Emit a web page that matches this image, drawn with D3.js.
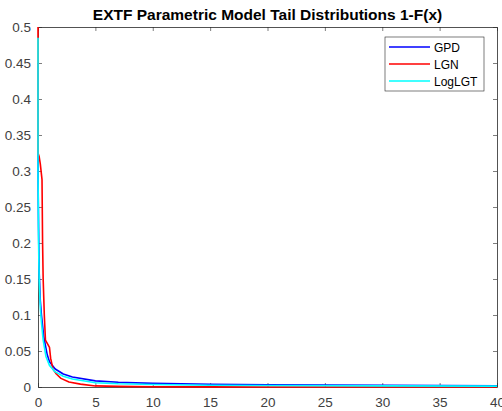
<!DOCTYPE html>
<html>
<head>
<meta charset="utf-8">
<script src="https://cdn.jsdelivr.net/npm/d3@7"></script>
<style>
  body { margin: 0; background: #fff; }
  svg { display: block; font-family: "Liberation Sans", Arial, sans-serif; }
</style>
</head>
<body>
<svg id="chart" width="502" height="411"></svg>
<script>
// series
const gpdX = [0, 0, 0.05, 0.1, 0.2, 0.3, 0.5, 0.8, 1.0, 1.5, 2.2, 3, 5, 7, 10, 15, 20, 30, 40]
const gpdY = [0.45, 0.3, 0.22, 0.16, 0.12, 0.1, 0.07, 0.045, 0.035, 0.025, 0.018, 0.014, 0.0085, 0.0065, 0.005, 0.0038, 0.003, 0.0022, 0.0018]

const lgnX = [0, 0, 0.1, 0.2, 0.35, 0.4, 0.45, 0.55, 0.65, 1.0, 1.1, 1.3, 1.6, 2.0, 2.7, 3.7, 5, 7, 10, 15, 20, 30, 40]
const lgnY = [0.5, 0.325, 0.32, 0.31, 0.288, 0.2, 0.15, 0.1, 0.065, 0.055, 0.04, 0.025, 0.018, 0.012, 0.007, 0.004, 0.0015, 0.0008, 0.0004, 0.0002, 0.0001, 0.00005, 0.00002]

const lgtX = [0, 0, 0.05, 0.1, 0.2, 0.3, 0.45, 0.7, 1.0, 1.5, 2.2, 3, 5, 7, 10, 15, 20, 30, 40]
const lgtY = [0.485, 0.3, 0.2, 0.15, 0.11, 0.09, 0.065, 0.042, 0.03, 0.021, 0.015, 0.011, 0.006, 0.0045, 0.0035, 0.0025, 0.002, 0.0015, 0.0012]

const seriesNames = ['GPD', 'LGN', 'LogLGT']
const seriesColors = ['#0000ff', '#ff0000', '#00ffff']
const xTicks = [0, 5, 10, 15, 20, 25, 30, 35, 40]
const yTicks = [0, 0.05, 0.1, 0.15, 0.2, 0.25, 0.3, 0.35, 0.4, 0.45, 0.5]
const title = 'EXTF Parametric Model Tail Distributions 1-F(x)'

const W = 502, H = 411
const margin = { top: 27, right: 5, bottom: 24, left: 38 }

const svg = d3.select('#chart')

const x = d3.scaleLinear().domain([0, 40]).range([margin.left, W - margin.right])
const y = d3.scaleLinear().domain([0, 0.5]).range([H - margin.bottom, margin.top])

const axisColor = '#262626'
const labelColor = '#404040'

// clip so lines stay inside the box (a little slack so the x=0 edge shows fully)
svg.append('clipPath').attr('id', 'clip')
  .append('rect')
  .attr('x', margin.left - 2).attr('y', margin.top - 1)
  .attr('width', x(40) - x(0) + 2).attr('height', y(0) - y(0.5) + 2)

const series = [
  { xs: gpdX, ys: gpdY },
  { xs: lgnX, ys: lgnY },
  { xs: lgtX, ys: lgtY }
]

const line = d3.line().x((d) => x(d[0])).y((d) => y(d[1]))

// axes, ticks pointing inward, box on all sides
const styleAxis = (g) => {
  g.select('.domain').attr('stroke', axisColor).attr('stroke-width', 0.8)
  g.selectAll('.tick line').attr('stroke', axisColor).attr('stroke-width', 0.6)
  g.selectAll('.tick text').attr('fill', labelColor).style('font-size', '13.5px')
}

svg.append('g')
  .attr('transform', 'translate(0,' + y(0) + ')')
  .call(d3.axisBottom(x).tickValues(xTicks).tickSizeInner(-4).tickSizeOuter(0).tickPadding(10))
  .call(styleAxis)

svg.append('g')
  .attr('transform', 'translate(0,' + y(0.5) + ')')
  .call(d3.axisTop(x).tickValues(xTicks).tickSizeInner(-4).tickSizeOuter(0).tickFormat(''))
  .call(styleAxis)

svg.append('g')
  .attr('transform', 'translate(' + x(0) + ',0)')
  .call(d3.axisLeft(y).tickValues(yTicks).tickFormat(d3.format('~g')).tickSizeInner(-4).tickSizeOuter(0).tickPadding(7))
  .call(styleAxis)

svg.append('g')
  .attr('transform', 'translate(' + x(40) + ',0)')
  .call(d3.axisRight(y).tickValues(yTicks).tickSizeInner(-4).tickSizeOuter(0).tickFormat(''))
  .call(styleAxis)

svg.append('g').attr('clip-path', 'url(#clip)')
  .selectAll('path')
  .data(series)
  .enter()
  .append('path')
  .attr('d', (s) => line(s.xs.map((v, i) => [v, s.ys[i]])))
  .attr('fill', 'none')
  .attr('stroke', (s, i) => seriesColors[i])
  .attr('stroke-width', 1.6)
  .attr('stroke-linejoin', 'round')

svg.append('text')
  .attr('x', (x(0) + x(40)) / 2)
  .attr('y', 20)
  .attr('text-anchor', 'middle')
  .attr('fill', '#000')
  .style('font-size', '15.5px')
  .style('font-weight', 'bold')
  .text(title)

// legend
const legend = svg.append('g').attr('transform', 'translate(385,37)')
legend.append('rect')
  .attr('width', 99).attr('height', 54)
  .attr('fill', '#fff').attr('stroke', axisColor).attr('stroke-width', 0.6)

const items = legend.selectAll('g.item')
  .data(seriesNames)
  .enter()
  .append('g')
  .attr('class', 'item')
  .attr('transform', (d, i) => 'translate(0,' + (10 + i * 17) + ')')

items.append('line')
  .attr('x1', 4).attr('x2', 45)
  .attr('stroke', (d, i) => seriesColors[i])
  .attr('stroke-width', 1.6)

items.append('text')
  .attr('x', 49).attr('y', 4.5)
  .attr('fill', '#000')
  .style('font-size', '12px')
  .text((d) => d)
</script>
</body>
</html>
